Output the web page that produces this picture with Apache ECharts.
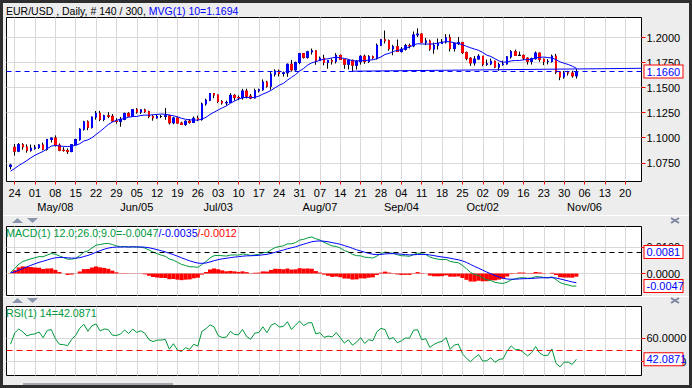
<!DOCTYPE html>
<html><head><meta charset="utf-8">
<script src="https://cdn.jsdelivr.net/npm/echarts@6/dist/echarts.min.js"></script>
<style>html,body{margin:0;padding:0;background:#2e2e2e;}#c{width:692px;height:388px;}</style>
</head><body><div id="c"></div>
<script>
// ---------- categories (trading days, x axis) ----------
const categories = [
'04-20','04-21','04-24','04-25','04-26','04-27','04-28',
'05-01','05-02','05-03','05-04','05-05','05-08','05-09','05-10','05-11','05-12','05-15','05-16','05-17','05-18','05-19','05-22','05-23','05-24','05-25','05-26','05-29','05-30','05-31',
'06-01','06-02','06-05','06-06','06-07','06-08','06-09','06-12','06-13','06-14','06-15','06-16','06-19','06-20','06-21','06-22','06-23','06-26','06-27','06-28','06-29','06-30',
'07-03','07-04','07-05','07-06','07-07','07-10','07-11','07-12','07-13','07-14','07-17','07-18','07-19','07-20','07-21','07-24','07-25','07-26','07-27','07-28','07-31',
'08-01','08-02','08-03','08-04','08-07','08-08','08-09','08-10','08-11','08-14','08-15','08-16','08-17','08-18','08-21','08-22','08-23','08-24','08-25','08-28','08-29','08-30','08-31',
'09-01','09-04','09-05','09-06','09-07','09-08','09-11','09-12','09-13','09-14','09-15','09-18','09-19','09-20','09-21','09-22','09-25','09-26','09-27','09-28','09-29',
'10-02','10-03','10-04','10-05','10-06','10-09','10-10','10-11','10-12','10-13','10-16','10-17','10-18','10-19','10-20','10-23','10-24','10-25','10-26','10-27','10-30','10-31',
'11-01','11-02','11-03','11-06','11-07','11-08','11-09','11-10','11-13','11-14','11-15','11-16','11-17','11-20','11-21','11-22','11-23','11-24'];
const dataDates = categories.slice(1, 141);   // 04-21 .. 11-02

// ---------- tick labels ----------
const weekTicks = ['04-24','05-01','05-08','05-15','05-22','05-29','06-05','06-12','06-19','06-26','07-03','07-10','07-17','07-24','07-31','08-07','08-14','08-21','08-28','09-04','09-11','09-18','09-25','10-02','10-09','10-16','10-23','10-30','11-06','11-13','11-20'];
const monthLabels = {'05-08':'May/08','06-05':'Jun/05','07-03':'Jul/03','08-07':'Aug/07','09-04':'Sep/04','10-02':'Oct/02','11-06':'Nov/06'};
const priceTicks = [1.075, 1.100, 1.125, 1.150, 1.175, 1.200];
const macdTicks = [0, 0.01];
const rsiTicks = [40, 60];

// ---------- OHLC ----------
const opens = [1.0713,1.0904,1.0866,1.0930,1.0908,1.0873,1.0895,1.0902,1.0928,1.0885,
1.0983,1.0997,1.0925,1.0875,1.0872,1.0862,1.0931,1.0981,1.1085,1.1159,
1.1102,1.1206,1.1244,1.1183,1.1219,1.1214,1.1166,1.1163,1.1183,1.1242,
1.1215,1.1280,1.1256,1.1278,1.1260,1.1211,1.1197,1.1212,1.1212,1.1219,
1.1149,1.1197,1.1146,1.1133,1.1165,1.1152,1.1194,1.1181,1.1337,1.1375,
1.1441,1.1426,1.1362,1.1348,1.1352,1.1423,1.1401,1.1399,1.1466,1.1415,
1.1396,1.1469,1.1478,1.1556,1.1515,1.1634,1.1666,1.1641,1.1648,1.1733,
1.1677,1.1751,1.1839,1.1802,1.1857,1.1867,1.1773,1.1793,1.1752,1.1770,
1.1763,1.1822,1.1781,1.1734,1.1772,1.1724,1.1760,1.1813,1.1762,1.1808,
1.1799,1.1923,1.1978,1.1968,1.1887,1.1908,1.1860,1.1883,1.1918,1.1917,
1.2026,1.2035,1.1954,1.1966,1.1885,1.1920,1.1941,1.1955,1.1998,1.1890,
1.1939,1.1951,1.1849,1.1793,1.1746,1.1785,1.1814,1.1733,1.1737,1.1763,
1.1705,1.1730,1.1736,1.1807,1.1859,1.1822,1.1822,1.1795,1.1763,1.1789,
1.1845,1.1783,1.1760,1.1762,1.1814,1.1655,1.1607,1.1647,1.1646,1.1618];
const highs = [1.0738,1.0937,1.0947,1.0945,1.0933,1.0932,1.0928,1.0936,1.0951,1.0988,
1.0999,1.1023,1.0943,1.0905,1.0893,1.0933,1.0990,1.1094,1.1169,1.1173,
1.1212,1.1267,1.1268,1.1230,1.1255,1.1236,1.1195,1.1208,1.1251,1.1255,
1.1285,1.1296,1.1285,1.1290,1.1269,1.1230,1.1230,1.1226,1.1296,1.1225,
1.1208,1.1212,1.1160,1.1173,1.1187,1.1212,1.1221,1.1350,1.1389,1.1446,
1.1445,1.1432,1.1375,1.1370,1.1445,1.1434,1.1422,1.1488,1.1490,1.1437,
1.1490,1.1490,1.1582,1.1568,1.1655,1.1683,1.1680,1.1660,1.1740,1.1777,
1.1760,1.1846,1.1846,1.1868,1.1890,1.1868,1.1810,1.1828,1.1775,1.1790,
1.1845,1.1830,1.1785,1.1780,1.1780,1.1775,1.1823,1.1830,1.1825,1.1820,
1.1940,1.1984,1.2070,1.1980,1.1927,1.1980,1.1905,1.1937,1.1940,1.2060,
1.2092,1.2040,1.1995,1.1979,1.1950,1.1990,1.1985,1.2034,1.2032,1.1950,
1.2005,1.1952,1.1860,1.1803,1.1815,1.1834,1.1815,1.1780,1.1790,1.1770,
1.1748,1.1770,1.1815,1.1875,1.1880,1.1860,1.1830,1.1800,1.1800,1.1861,
1.1850,1.1790,1.1785,1.1830,1.1837,1.1660,1.1667,1.1668,1.1669,1.1687];
const lows = [1.0685,1.0822,1.0856,1.0880,1.0851,1.0860,1.0880,1.0888,1.0874,1.0870,
1.0952,1.0912,1.0865,1.0861,1.0838,1.0855,1.0924,1.0970,1.1070,1.1075,
1.1092,1.1180,1.1165,1.1165,1.1195,1.1160,1.1140,1.1110,1.1175,1.1210,
1.1208,1.1240,1.1238,1.1248,1.1195,1.1170,1.1190,1.1196,1.1179,1.1132,
1.1135,1.1140,1.1130,1.1118,1.1140,1.1145,1.1165,1.1170,1.1320,1.1365,
1.1394,1.1345,1.1330,1.1320,1.1345,1.1370,1.1375,1.1380,1.1392,1.1385,
1.1392,1.1452,1.1470,1.1500,1.1480,1.1610,1.1612,1.1610,1.1608,1.1660,
1.1670,1.1735,1.1790,1.1790,1.1830,1.1728,1.1765,1.1723,1.1688,1.1730,
1.1741,1.1777,1.1688,1.1681,1.1662,1.1680,1.1730,1.1738,1.1745,1.1784,
1.1780,1.1920,1.1941,1.1868,1.1823,1.1858,1.1850,1.1870,1.1891,1.1904,
1.2005,1.1950,1.1924,1.1868,1.1838,1.1880,1.1940,1.1940,1.1861,1.1860,
1.1925,1.1836,1.1773,1.1717,1.1720,1.1782,1.1713,1.1717,1.1724,1.1695,
1.1669,1.1719,1.1730,1.1790,1.1822,1.1815,1.1775,1.1730,1.1730,1.1780,
1.1758,1.1725,1.1732,1.1750,1.1637,1.1574,1.1589,1.1620,1.1600,1.1590];
const closes = [1.0727,1.0866,1.0930,1.0908,1.0873,1.0895,1.0902,1.0928,1.0885,1.0983,
1.0997,1.0925,1.0875,1.0872,1.0862,1.0931,1.0981,1.1085,1.1159,1.1102,
1.1206,1.1244,1.1183,1.1219,1.1214,1.1166,1.1163,1.1183,1.1242,1.1215,
1.1280,1.1256,1.1278,1.1260,1.1211,1.1197,1.1212,1.1212,1.1219,1.1149,
1.1197,1.1146,1.1133,1.1165,1.1152,1.1194,1.1181,1.1337,1.1375,1.1441,
1.1426,1.1362,1.1348,1.1352,1.1423,1.1401,1.1399,1.1466,1.1415,1.1396,
1.1469,1.1478,1.1556,1.1515,1.1634,1.1666,1.1641,1.1648,1.1733,1.1677,
1.1751,1.1839,1.1802,1.1857,1.1867,1.1773,1.1793,1.1752,1.1770,1.1763,
1.1822,1.1781,1.1734,1.1772,1.1724,1.1760,1.1813,1.1762,1.1808,1.1799,
1.1923,1.1978,1.1968,1.1887,1.1908,1.1860,1.1883,1.1918,1.1917,1.2026,
1.2035,1.1954,1.1966,1.1885,1.1920,1.1941,1.1955,1.1998,1.1890,1.1939,
1.1951,1.1849,1.1793,1.1746,1.1785,1.1814,1.1733,1.1737,1.1763,1.1705,
1.1730,1.1736,1.1807,1.1859,1.1822,1.1822,1.1795,1.1763,1.1789,1.1845,
1.1783,1.1760,1.1762,1.1814,1.1655,1.1607,1.1647,1.1646,1.1618,1.1660];

// ---------- MVG(1) 10 ----------
const mvg10 = [1.0666,1.0693,1.0722,1.0746,1.0772,1.0800,1.0825,1.0845,1.0863,1.0890,
1.0917,1.0923,1.0917,1.0914,1.0912,1.0916,1.0924,1.0940,1.0967,1.0979,
1.1000,1.1032,1.1063,1.1097,1.1132,1.1156,1.1174,1.1184,1.1192,1.1204,
1.1211,1.1212,1.1222,1.1226,1.1225,1.1229,1.1233,1.1236,1.1234,1.1227,
1.1219,1.1208,1.1194,1.1184,1.1178,1.1178,1.1175,1.1187,1.1203,1.1232,
1.1255,1.1277,1.1298,1.1317,1.1344,1.1365,1.1386,1.1399,1.1403,1.1399,
1.1403,1.1415,1.1436,1.1452,1.1473,1.1499,1.1524,1.1542,1.1574,1.1602,
1.1630,1.1666,1.1691,1.1725,1.1748,1.1759,1.1774,1.1784,1.1788,1.1797,
1.1804,1.1798,1.1791,1.1783,1.1768,1.1767,1.1769,1.1770,1.1774,1.1778,
1.1788,1.1807,1.1831,1.1842,1.1861,1.1871,1.1878,1.1893,1.1904,1.1927,
1.1938,1.1936,1.1935,1.1935,1.1936,1.1945,1.1952,1.1960,1.1957,1.1948,
1.1940,1.1929,1.1912,1.1898,1.1885,1.1872,1.1850,1.1824,1.1811,1.1788,
1.1766,1.1754,1.1756,1.1767,1.1771,1.1771,1.1778,1.1780,1.1783,1.1797,
1.1802,1.1805,1.1800,1.1796,1.1779,1.1757,1.1743,1.1731,1.1714,1.1694];
const lastPrice = 1.1660;
const trendLine = [['08-17', 1.1664], ['11-24', 1.1693]];

// ---------- MACD(1) 12;26;9 ----------
const macdLine = [0.0004,0.00185,0.00348,0.00454,0.00504,0.00555,0.00594,0.00639,0.00633,0.00698,
0.00752,0.00729,0.00663,0.00602,0.00539,0.00539,0.00572,0.00674,0.00805,0.00853,
0.00964,0.0107,0.01093,0.01127,0.01137,0.01093,0.01044,0.0101,0.01019,0.00993,
0.01013,0.00997,0.00992,0.00962,0.00888,0.00808,0.00749,0.00694,0.00649,0.0055,
0.00504,0.00422,0.00342,0.00302,0.00256,0.00251,0.00234,0.00342,0.00453,0.00588,
0.00674,0.00683,0.00671,0.00658,0.00696,0.00701,0.00695,0.00736,0.00719,0.00682,
0.00704,0.0072,0.00786,0.00797,0.00891,0.0098,0.01019,0.01044,0.01119,0.0112,
0.01167,0.01261,0.0129,0.01343,0.01377,0.01313,0.01263,0.01177,0.01111,0.01041,
0.01022,0.00962,0.00867,0.00813,0.00723,0.00673,0.00668,0.00616,0.00605,0.00583,
0.00658,0.00752,0.0081,0.00781,0.00766,0.00708,0.00673,0.00665,0.0065,0.00719,
0.00771,0.00739,0.00715,0.00623,0.00572,0.00542,0.00523,0.00537,0.00456,0.00426,
0.00407,0.00306,0.00179,0.0004,-0.00038,-0.00076,-0.00169,-0.00237,-0.00266,-0.00333,
-0.00361,-0.00375,-0.00324,-0.00239,-0.002,-0.00166,-0.0016,-0.00179,-0.00171,-0.00118,
-0.00125,-0.00147,-0.00161,-0.00129,-0.00229,-0.00343,-0.00396,-0.00434,-0.00478,-0.0047];
const macdSignal = [0.0003,0.00061,0.00118,0.00185,0.00249,0.0031,0.00367,0.00421,0.00463,0.0051,
0.00558,0.00592,0.00606,0.00605,0.00592,0.00581,0.00579,0.00598,0.00639,0.00682,
0.00738,0.00804,0.00862,0.00915,0.00959,0.00986,0.00998,0.01,0.01004,0.01002,
0.01004,0.01003,0.01001,0.00993,0.00972,0.00939,0.00901,0.0086,0.00818,0.00764,
0.00712,0.00654,0.00592,0.00534,0.00478,0.00433,0.00393,0.00383,0.00397,0.00435,
0.00483,0.00523,0.00553,0.00574,0.00598,0.00619,0.00634,0.00654,0.00667,0.0067,
0.00677,0.00686,0.00706,0.00724,0.00757,0.00802,0.00845,0.00885,0.00932,0.0097,
0.01009,0.0106,0.01106,0.01153,0.01198,0.01221,0.01229,0.01219,0.01197,0.01166,
0.01137,0.01102,0.01055,0.01007,0.0095,0.00895,0.0085,0.00803,0.00763,0.00727,
0.00713,0.00721,0.00739,0.00747,0.00751,0.00742,0.00728,0.00715,0.00702,0.00705,
0.00718,0.00722,0.00721,0.00701,0.00675,0.00648,0.00623,0.00606,0.00576,0.00546,
0.00518,0.00476,0.00417,0.00342,0.00266,0.00198,0.00125,0.00053,-0.00011,-0.00075,
-0.00132,-0.00181,-0.0021,-0.00216,-0.00213,-0.00204,-0.00195,-0.00192,-0.00188,-0.00174,
-0.00164,-0.00161,-0.00161,-0.00155,-0.0017,-0.00205,-0.00243,-0.00281,-0.00321,-0.0035];
const macdHist = [0.0001,0.00124,0.0023,0.00269,0.00255,0.00245,0.00227,0.00218,0.0017,0.00188,
0.00194,0.00137,0.00057,-0.00003,-0.00053,-0.00042,-0.00007,0.00076,0.00166,0.00171,
0.00226,0.00266,0.00231,0.00212,0.00178,0.00107,0.00046,0.0001,0.00015,-0.00009,
0.00009,-0.00006,-0.00009,-0.00031,-0.00084,-0.00131,-0.00152,-0.00166,-0.00169,-0.00214,
-0.00208,-0.00232,-0.0025,-0.00232,-0.00222,-0.00182,-0.00159,-0.00041,0.00056,0.00153,
0.00191,0.0016,0.00118,0.00084,0.00098,0.00082,0.00061,0.00082,0.00052,0.00012,
0.00027,0.00034,0.0008,0.00073,0.00134,0.00178,0.00174,0.00159,0.00187,0.0015,
0.00158,0.00201,0.00184,0.0019,0.00179,0.00092,0.00034,-0.00042,-0.00086,-0.00125,
-0.00115,-0.0014,-0.00188,-0.00194,-0.00227,-0.00222,-0.00182,-0.00187,-0.00158,-0.00144,
-0.00055,0.00031,0.00071,0.00034,0.00015,-0.00034,-0.00055,-0.0005,-0.00052,0.00014,
0.00053,0.00017,-0.00006,-0.00078,-0.00103,-0.00106,-0.001,-0.00069,-0.0012,-0.0012,
-0.00111,-0.0017,-0.00238,-0.00302,-0.00304,-0.00274,-0.00294,-0.0029,-0.00255,-0.00258,
-0.00229,-0.00194,-0.00114,-0.00023,0.00013,0.00038,0.00035,0.00013,0.00017,0.00056,
0.00039,0.00014,0,0.00026,-0.00059,-0.00138,-0.00153,-0.00153,-0.00157,-0.0012];
const macdLevel = 0.0081;
const macdLast = -0.0047;

// ---------- RSI(1) 14 ----------
const rsi14 = [55.0,64.5,67.9,65.6,62.0,63.3,63.8,65.4,60.5,66.7,
67.5,59.7,54.9,54.6,53.7,59.1,62.6,68.6,72.0,66.0,
70.8,72.3,66.3,68.0,67.5,62.7,62.4,63.6,67.1,64.1,
67.8,65.1,66.4,64.3,58.8,57.2,58.5,58.5,59.1,50.7,
55.4,50.0,48.7,52.0,50.6,54.9,53.3,65.9,68.1,71.6,
69.7,62.3,60.7,61.0,65.9,63.3,63.0,67.6,61.4,59.2,
64.4,65.0,69.8,64.8,71.2,72.7,69.7,70.1,74.2,67.6,
71.2,74.8,70.8,73.1,73.5,63.7,64.8,60.8,61.9,61.2,
64.9,60.6,55.9,58.7,54.1,56.8,60.5,55.6,58.8,57.9,
65.7,68.5,67.4,59.3,60.7,56.2,57.8,60.2,60.1,66.9,
67.3,58.8,59.7,52.2,54.8,56.4,57.4,60.6,50.5,54.2,
55.1,46.8,42.9,40.0,43.4,46.0,40.5,40.9,43.4,39.4,
41.9,42.5,49.2,53.5,50.3,50.3,47.8,45.0,47.7,53.0,
47.3,45.3,45.5,50.9,38.5,35.6,39.6,39.6,37.7,42.0871];
const rsiLevel = 50;
const rsiLast = 42.0871;

// ---------- chart ----------
const FONT = '"Liberation Sans", Arial, sans-serif';
const GRID = '#d8d8d8';
const GREEN = '#00983c';
const BLUE = '#0000ff';
const RED = '#ff0000';
const tickSet = new Set(weekTicks);
const isTick = (i, v) => tickSet.has(v);

function xAx(gi, labels) {
  return {
    type: 'category', gridIndex: gi, data: categories, boundaryGap: false,
    axisLine: { show: false },
    axisTick: { show: labels, interval: isTick, length: 3, lineStyle: { color: RED } },
    axisLabel: {
      show: labels, interval: isTick,
      formatter: v => monthLabels[v] ? v.slice(3) + '\n' + monthLabels[v] : v.slice(3),
      fontSize: 11, lineHeight: 14, margin: 4, color: '#000', fontFamily: FONT
    },
    splitLine: { show: true, interval: isTick, lineStyle: { color: GRID, width: 1 } }
  };
}
function yAx(gi, min, max, ticks) {
  return {
    type: 'value', gridIndex: gi, position: 'right', min: min, max: max,
    axisLine: { show: false },
    axisTick: { show: true, customValues: ticks, length: 4, lineStyle: { color: RED } },
    axisLabel: { customValues: ticks, formatter: v => Number(v).toFixed(4), fontSize: 11, color: '#000', margin: 5, fontFamily: FONT },
    splitLine: { show: true, lineStyle: { color: GRID, width: 1 } }
  };
}
function boxLabel(text) {
  return { show: true, position: 'end', distance: 3, formatter: text, color: BLUE,
    backgroundColor: '#fff', borderColor: RED, borderWidth: 1, padding: [1, 2, 0, 2],
    width: 34, fontSize: 11, lineHeight: 11, fontFamily: FONT, align: 'left' };
}

const candleData = dataDates.map((d, i) => [d, opens[i], closes[i], lows[i], highs[i]]);
const bodyData = dataDates.map((d, i) => [d, opens[i], closes[i], Math.min(opens[i], closes[i]), Math.max(opens[i], closes[i])]);
const pair = arr => dataDates.map((d, i) => [d, arr[i]]);

const option = {
  animation: false,
  backgroundColor: '#ededed',
  textStyle: { fontFamily: FONT },
  grid: [
    { left: 6.5, top: 17.5, width: 635, height: 164, show: true, borderColor: '#000', borderWidth: 1, backgroundColor: '#fff' },
    { left: 6.5, top: 226.5, width: 635, height: 69, show: true, borderColor: '#000', borderWidth: 1, backgroundColor: '#fff' },
    { left: 6.5, top: 306.5, width: 635, height: 69, show: true, borderColor: '#000', borderWidth: 1, backgroundColor: '#fff' }
  ],
  xAxis: [xAx(0, true), xAx(1, false), xAx(2, false)],
  yAxis: [yAx(0, 1.0563, 1.2200, priceTicks), yAx(1, -0.0083, 0.01774, macdTicks), yAx(2, 28.2, 87.2, rsiTicks)],
  series: [
    { type: 'candlestick', xAxisIndex: 0, yAxisIndex: 0, data: candleData, encode: { x: 0, y: [1, 2, 3, 4] },
      barWidth: 2, silent: true,
      itemStyle: { color: '#000', color0: '#000', borderColor: '#000', borderColor0: '#000', borderWidth: 1 } },
    { type: 'candlestick', xAxisIndex: 0, yAxisIndex: 0, data: bodyData, encode: { x: 0, y: [1, 2, 3, 4] },
      barWidth: 2, silent: true,
      itemStyle: { color: BLUE, color0: RED, borderColor: BLUE, borderColor0: RED, borderColorDoji: '#000', borderWidth: 1 } },
    { type: 'line', xAxisIndex: 0, yAxisIndex: 0, data: pair(mvg10), symbol: 'none', silent: true, clip: false,
      lineStyle: { color: BLUE, width: 1 },
      markLine: { symbol: 'none', silent: true, precision: 6, data: [{ yAxis: lastPrice }],
        lineStyle: { color: BLUE, type: [5, 4], width: 1 }, label: boxLabel(lastPrice.toFixed(4)) } },
    { type: 'line', xAxisIndex: 0, yAxisIndex: 0, data: trendLine, symbol: 'none', silent: true,
      lineStyle: { color: BLUE, width: 1 } },

    { type: 'bar', xAxisIndex: 1, yAxisIndex: 1, data: pair(macdHist), barCategoryGap: '0%', silent: true,
      itemStyle: { color: RED } },
    { type: 'line', xAxisIndex: 1, yAxisIndex: 1, data: pair(macdLine), symbol: 'none', silent: true,
      lineStyle: { color: GREEN, width: 1 } },
    { type: 'line', xAxisIndex: 1, yAxisIndex: 1, data: pair(macdSignal), symbol: 'none', silent: true, clip: false,
      lineStyle: { color: BLUE, width: 1 },
      markLine: { symbol: 'none', silent: true, precision: 6, data: [
        { yAxis: macdLevel, lineStyle: { color: '#000', type: [5, 4], width: 1 }, label: boxLabel(macdLevel.toFixed(4)) },
        { yAxis: macdLast, lineStyle: { color: 'rgba(0,0,0,0)', width: 1 }, label: boxLabel(macdLast.toFixed(4)) }
      ] } },

    { type: 'line', xAxisIndex: 2, yAxisIndex: 2, data: pair(rsi14), symbol: 'none', silent: true, clip: false,
      lineStyle: { color: GREEN, width: 1 },
      markLine: { symbol: 'none', silent: true, precision: 6, data: [
        { yAxis: rsiLevel, lineStyle: { color: RED, type: [6, 4], width: 1 }, label: { show: false } },
        { yAxis: rsiLast, lineStyle: { color: 'rgba(0,0,0,0)', width: 1 }, label: boxLabel(rsiLast.toFixed(4)) }
      ] } }
  ],
  graphic: [
    { type: 'text', x: 6, y: 11, silent: true, style: {
        text: '{k|EUR/USD , Daily, # 140 / 300, }{b|MVG(1) 10=1.1694}',
        font: '10.5px ' + FONT, verticalAlign: 'middle', textVerticalAlign: 'middle',
        rich: { k: { fill: '#000', font: '10.5px ' + FONT }, b: { fill: BLUE, font: '10.5px ' + FONT } } } },
    { type: 'text', x: 6, y: 233, silent: true, z: 100, style: {
        text: '{g|MACD(1) 12.0;26.0;9.0=-0.0047}{b|/-0.0035}{r|/-0.0012}',
        font: '10.7px ' + FONT, verticalAlign: 'middle', textVerticalAlign: 'middle',
        rich: { g: { fill: GREEN, font: '10.7px ' + FONT }, b: { fill: BLUE, font: '10.7px ' + FONT }, r: { fill: RED, font: '10.7px ' + FONT } } } },
    { type: 'text', x: 6, y: 312.5, silent: true, z: 100, style: {
        text: '{g|RSI(1) 14=42.0871}',
        font: '10.7px ' + FONT, verticalAlign: 'middle', textVerticalAlign: 'middle',
        rich: { g: { fill: GREEN, font: '10.7px ' + FONT } } } },
    // panel separators
    { type: 'line', silent: true, shape: { x1: 3, y1: 215.5, x2: 689, y2: 215.5 }, style: { stroke: '#ffffff', lineWidth: 1 } },
    { type: 'line', silent: true, shape: { x1: 3, y1: 296.5, x2: 689, y2: 296.5 }, style: { stroke: '#ffffff', lineWidth: 1 } },
    { type: 'polygon', silent: true, shape: { points: [[12, 223], [17.5, 218], [23, 223]] }, style: { fill: '#8c95ad' } },
    { type: 'polygon', silent: true, shape: { points: [[27, 218], [38, 218], [32.5, 223]] }, style: { fill: '#8c95ad' } },
    { type: 'polygon', silent: true, shape: { points: [[12, 303], [17.5, 298], [23, 303]] }, style: { fill: '#8c95ad' } },
    { type: 'polygon', silent: true, shape: { points: [[27, 298], [38, 298], [32.5, 303]] }, style: { fill: '#8c95ad' } },
    { type: 'line', silent: true, shape: { x1: 671, y1: 218, x2: 679, y2: 223 }, style: { stroke: '#7c86a0', lineWidth: 2 } },
    { type: 'line', silent: true, shape: { x1: 679, y1: 218, x2: 671, y2: 223 }, style: { stroke: '#7c86a0', lineWidth: 2 } },
    { type: 'line', silent: true, shape: { x1: 671, y1: 298, x2: 679, y2: 303 }, style: { stroke: '#7c86a0', lineWidth: 2 } },
    { type: 'line', silent: true, shape: { x1: 679, y1: 298, x2: 671, y2: 303 }, style: { stroke: '#7c86a0', lineWidth: 2 } },
    // scrollbar thumb
    { type: 'rect', silent: true, shape: { x: 23, y: 383, width: 150, height: 2 }, style: { fill: '#a8a8b0' } },
    // dark window frame
    { type: 'rect', silent: true, z: 200, shape: { x: 0, y: 0, width: 692, height: 3 }, style: { fill: '#2e2e2e' } },
    { type: 'rect', silent: true, z: 200, shape: { x: 0, y: 0, width: 3, height: 388 }, style: { fill: '#2e2e2e' } },
    { type: 'rect', silent: true, z: 200, shape: { x: 689, y: 0, width: 3, height: 388 }, style: { fill: '#2e2e2e' } },
    { type: 'rect', silent: true, z: 200, shape: { x: 0, y: 385, width: 692, height: 3 }, style: { fill: '#2e2e2e' } }
  ]
};

if ([opens, highs, lows, closes, mvg10, macdLine, macdSignal, macdHist, rsi14].some(a => a.length !== 140)) {
  throw new Error('array length mismatch');
}
const chart = echarts.init(document.getElementById('c'), null, { renderer: 'svg' });
chart.setOption(option);
</script>
</body></html>
